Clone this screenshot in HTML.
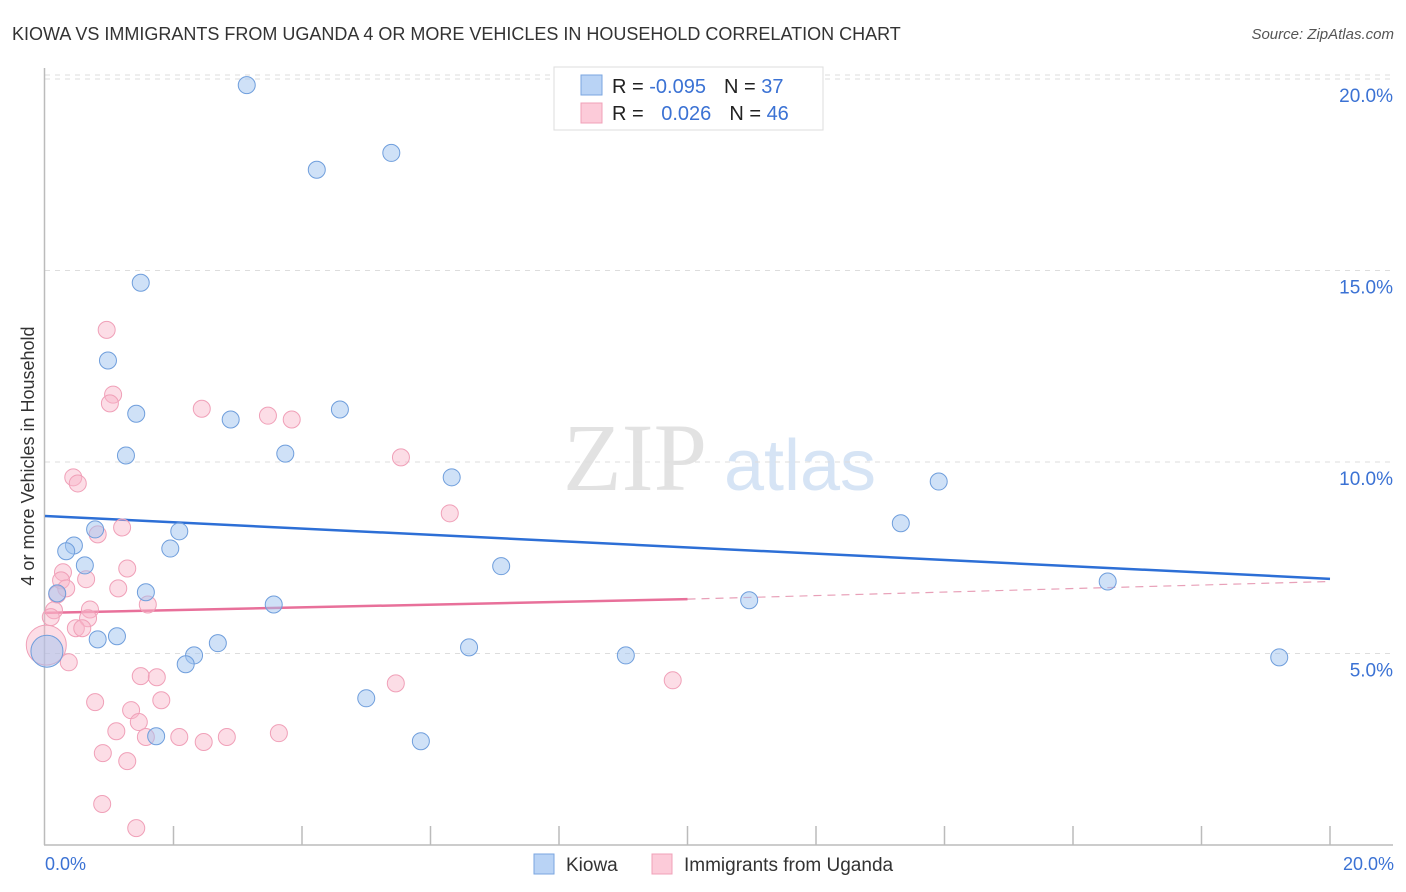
<!DOCTYPE html>
<html><head><meta charset="utf-8"><style>
body{margin:0;background:#fff;font-family:"Liberation Sans",sans-serif;}
#wrap{position:relative;width:1406px;height:892px;overflow:hidden;}
</style></head><body>
<div id="wrap">
<svg id="chart" width="1406" height="892" xmlns="http://www.w3.org/2000/svg">
<text x="12" y="40" font-size="18" fill="#333">KIOWA VS IMMIGRANTS FROM UGANDA 4 OR MORE VEHICLES IN HOUSEHOLD CORRELATION CHART</text>
<text x="1394" y="39" font-size="15" fill="#555" font-style="italic" text-anchor="end">Source: ZipAtlas.com</text>
<text x="635" y="490" font-size="96" fill="#e2e2e2" font-family="Liberation Serif,serif" text-anchor="middle">ZIP</text>
<text x="800" y="490" font-size="72" fill="#d6e4f5" text-anchor="middle">atlas</text>
<g id="grid"></g>
<g id="axes"></g>
<g id="lines"></g>
<g id="pts"></g>
<text transform="translate(34,456) rotate(-90)" font-size="18" fill="#333" text-anchor="middle">4 or more Vehicles in Household</text>
<text x="45" y="870" font-size="18" fill="#3b72d4">0.0%</text>
<text x="1394" y="870" font-size="18" fill="#3b72d4" text-anchor="end">20.0%</text>
<g>
<rect x="554" y="67" width="269" height="63" fill="#fff" stroke="#ddd"/>
<rect x="581" y="75" width="21" height="20" fill="#b9d3f5" stroke="#7aa6e0"/>
<rect x="581" y="103" width="21" height="20" fill="#fccbd9" stroke="#f0a0b8"/>
<text x="612" y="93" font-size="20" fill="#222">R = <tspan fill="#3b72d4">-0.095</tspan><tspan dx="18">N = </tspan><tspan fill="#3b72d4">37</tspan></text>
<text x="612" y="120" font-size="20" fill="#222">R = <tspan fill="#3b72d4" dx="12">0.026</tspan><tspan dx="18">N = </tspan><tspan fill="#3b72d4">46</tspan></text>
</g>
<g><rect x="534" y="854" width="20" height="20" fill="#b9d3f5" stroke="#7aa6e0"/><text x="566" y="871" font-size="19" fill="#333">Kiowa</text></g>
<g><rect x="652" y="854" width="20" height="20" fill="#fccbd9" stroke="#f0a0b8"/><text x="684" y="871" font-size="19" fill="#333">Immigrants from Uganda</text></g>
</svg>
</div>
<script>
const yTicks=[5,10,15,20];
const xTicks=[0,2,4,6,8,10,12,14,16,18,20];
const kiowaX=[3.14,4.23,5.39,1.49,0.98,1.42,2.89,4.59,1.26,3.74,6.33,13.91,13.32,0.78,2.09,0.45,0.33,1.95,0.62,7.10,0.19,1.57,3.56,10.96,16.54,1.12,0.82,2.69,6.60,2.32,2.19,9.04,19.21,5.00,5.85,1.73,0.03];
const kiowaY=[19.84,17.63,18.07,14.68,12.65,11.26,11.11,11.37,10.17,10.22,9.60,9.49,8.40,8.24,8.19,7.82,7.67,7.74,7.30,7.28,6.57,6.60,6.28,6.39,6.88,5.45,5.37,5.27,5.16,4.95,4.72,4.95,4.90,3.83,2.71,2.84,5.06];
const ugandaX=[0.96,1.06,1.01,2.44,3.47,3.84,5.54,0.44,0.51,6.30,1.20,0.82,1.28,0.28,0.25,0.64,0.33,1.14,0.19,1.60,0.14,0.70,0.09,0.67,0.48,0.58,0.37,0.02,1.49,1.74,1.81,0.78,5.46,9.77,1.34,1.46,1.11,1.57,2.09,2.47,2.83,3.64,0.90,1.28,0.89,1.42];
const ugandaY=[13.45,11.76,11.53,11.39,11.21,11.11,10.12,9.60,9.44,8.66,8.29,8.11,7.22,7.12,6.91,6.94,6.70,6.70,6.54,6.28,6.13,6.15,5.95,5.92,5.66,5.66,4.77,5.22,4.41,4.38,3.78,3.73,4.22,4.30,3.52,3.21,2.97,2.82,2.82,2.69,2.82,2.92,2.40,2.19,1.07,0.44];
const kiowaTrend=[8.59,6.95];
const ugandaTrend=[6.06,6.42,6.88];
const X=v=>45+v*64.25, Y=v=>845-v*38.3;
const NS="http://www.w3.org/2000/svg";
function mk(p,t,a){const e=document.createElementNS(NS,t);for(const k in a)e.setAttribute(k,a[k]);document.getElementById(p).appendChild(e);return e;}
yTicks.forEach(t=>{
 const l=mk('grid','line',{x1:45,x2:1393,y1:Y(t),y2:Y(t),stroke:'#ddd','stroke-dasharray':'5,5'});
 
 
 const tx=mk('grid','text',{x:1393,y:Y(t)+23,'font-size':19,fill:'#3b72d4','text-anchor':'end'});
 tx.textContent=t.toFixed(1)+'%';
 
 
});
const g0=mk('grid','line',{x1:45,x2:1393,y1:Y(20)-4,y2:Y(20)-4,stroke:'#ddd','stroke-dasharray':'5,5'});
mk('axes','line',{x1:44.5,x2:44.5,y1:68,y2:845,stroke:'#bbb','stroke-width':1.5});
mk('axes','line',{x1:44,x2:1393,y1:845,y2:845,stroke:'#bbb','stroke-width':1.5});
xTicks.slice(1).forEach(t=>{
 const l=mk('axes','line',{x1:X(t),x2:X(t),y1:826,y2:845,stroke:'#bbb','stroke-width':1.5});
 
 
});
const kl=mk('lines','line',{x1:X(0),y1:Y(kiowaTrend[0]),x2:X(20),y2:Y(kiowaTrend[1]),stroke:'#2d6fd6','stroke-width':2.5});


const ul=mk('lines','line',{x1:X(0),y1:Y(ugandaTrend[0]),x2:X(10),y2:Y(ugandaTrend[1]),stroke:'#e8709a','stroke-width':2.5});


const ud=mk('lines','line',{x1:X(10),y1:Y(ugandaTrend[1]),x2:X(20),y2:Y(ugandaTrend[2]),stroke:'#e8a0b8','stroke-width':1.2,'stroke-dasharray':'8,6'});


ugandaX.forEach((x,i)=>{
 const r=(i===27)?20:8.5;
 const c=mk('pts','circle',{cx:X(x),cy:Y(ugandaY[i]),r:r,fill:'rgba(248,180,200,0.45)',stroke:'#f0a0b8','stroke-width':1});
 
 
});
kiowaX.forEach((x,i)=>{
 const r=(i===36)?16:8.5;
 const c=mk('pts','circle',{cx:X(x),cy:Y(kiowaY[i]),r:r,fill:'rgba(160,196,240,0.5)',stroke:'#6f9edc','stroke-width':1});
 
 
});
</script>
</body></html>
